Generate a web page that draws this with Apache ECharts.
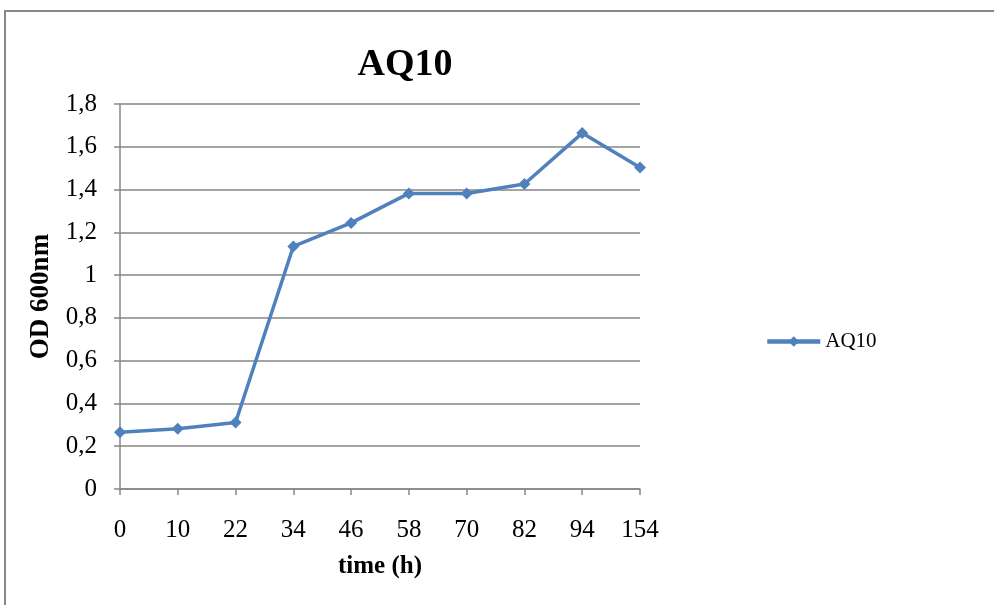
<!DOCTYPE html>
<html><head><meta charset="utf-8">
<script src="https://cdn.jsdelivr.net/npm/echarts@6/dist/echarts.min.js"></script>
<style>html,body{margin:0;padding:0;background:#fff}#c{width:994px;height:605px}</style>
</head><body><div id="c"></div>
<script>
const categories = ['0','10','22','34','46','58','70','82','94','154'];
const aq10 = [0.265, 0.282, 0.311, 1.134, 1.244, 1.382, 1.382, 1.426, 1.664, 1.503];
const seriesName = 'AQ10';
const titleText = 'AQ10';
const xName = 'time (h)';
const yName = 'OD 600nm';

const F = '"Liberation Serif","Times New Roman",serif';
const chart = echarts.init(document.getElementById('c'));
chart.setOption({
  animation: false,
  backgroundColor: '#fff',
  graphic: [{type:'rect', shape:{x:5, y:11, width:1100, height:700}, style:{fill:'none', stroke:'#868686', lineWidth:2}}],
  title: {text: titleText, left: 400, top: 41, textAlign:'center', textStyle:{fontFamily:F, fontSize:38, fontWeight:'bold', color:'#000'}},
  legend: {data:[seriesName], left: 760, top: 326, itemWidth: 53, itemHeight: 13, itemGap: 5,
    lineStyle:{width:4.5},
    textStyle:{fontFamily:F, fontSize:21, color:'#000'}},
  grid: {left:120, top:104, right:354, bottom:116},
  xAxis: {type:'category', data:categories, boundaryGap:false,
    axisLine:{lineStyle:{color:'#868686', width:1.5}},
    axisTick:{show:true, alignWithLabel:true, length:6, lineStyle:{color:'#868686', width:1.5}},
    axisLabel:{fontFamily:F, fontSize:25, color:'#000', margin:29},
    name:xName, nameLocation:'middle', nameGap:65,
    nameTextStyle:{fontFamily:F, fontSize:25, fontWeight:'bold', color:'#000'}},
  yAxis: {type:'value', min:0, max:1.8, interval:0.2,
    axisLine:{show:true, lineStyle:{color:'#868686', width:1.5}},
    axisTick:{show:true, length:6, lineStyle:{color:'#868686', width:1.5}},
    splitLine:{lineStyle:{color:'#868686', width:1.5}},
    axisLabel:{fontFamily:F, fontSize:25, color:'#000', margin:23,
      formatter: v => String(Math.round(v*10)/10).replace('.', ',')},
    name:yName, nameLocation:'middle', nameGap:65, nameRotate:90,
    nameTextStyle:{fontFamily:F, fontSize:27, fontWeight:'bold', color:'#000'}},
  series: [{name:seriesName, type:'line', data:aq10, symbol:'diamond', symbolSize:12,
    lineStyle:{color:'#4F81BD', width:3.5}, itemStyle:{color:'#4F81BD'}}]
});
</script></body></html>
